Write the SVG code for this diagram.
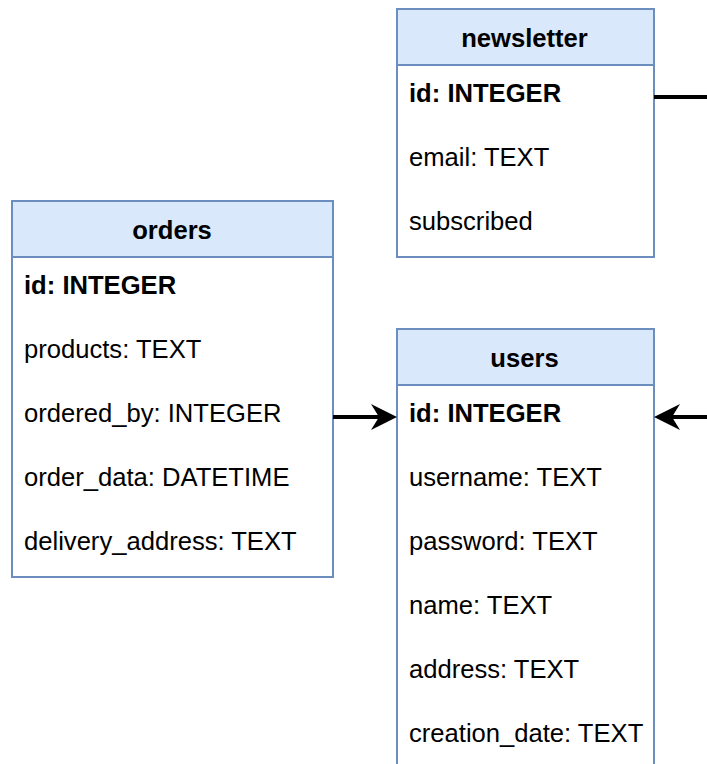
<svg xmlns="http://www.w3.org/2000/svg" width="707" height="764" viewBox="0 0 707 764">
  <style>
    .box { fill: #ffffff; stroke: #6c8ebf; stroke-width: 2; }
    .head { fill: #dae8fc; stroke: #6c8ebf; stroke-width: 2; }
    .title { font-family: "Liberation Sans", Arial, sans-serif; font-size: 25.6px; font-weight: bold; fill: #000000; text-anchor: middle; }
    .field { font-family: "Liberation Sans", Arial, sans-serif; font-size: 25.6px; fill: #000000; }
    .key { font-weight: bold; }
    .link { fill: none; stroke: #000000; stroke-width: 4; }
  </style>
  <defs>
    <marker id="arrow" viewBox="0 0 26 26" markerWidth="26" markerHeight="26" refX="8" refY="13" orient="auto" markerUnits="userSpaceOnUse">
      <path d="M0,0 L26,13 L0,26 L8,13 Z" fill="#000000"/>
    </marker>
  </defs>

  <rect width="707" height="764" fill="#ffffff"/>

  <!-- newsletter table -->
  <g id="newsletter">
    <rect class="box" x="397" y="9" width="257" height="248"/>
    <rect class="head" x="397" y="9" width="257" height="56"/>
    <text class="title" x="524.5" y="46.5">newsletter</text>
    <text class="field key" x="409" y="101.5">id: INTEGER</text>
    <text class="field" x="409" y="165.5">email: TEXT</text>
    <text class="field" x="409" y="229.5">subscribed</text>
  </g>

  <!-- orders table -->
  <g id="orders">
    <rect class="box" x="12" y="201" width="321" height="376"/>
    <rect class="head" x="12" y="201" width="321" height="56"/>
    <text class="title" x="172" y="238.5">orders</text>
    <text class="field key" x="24" y="293.5">id: INTEGER</text>
    <text class="field" x="24" y="357.5">products: TEXT</text>
    <text class="field" x="24" y="421.5">ordered_by: INTEGER</text>
    <text class="field" x="24" y="485.5">order_data: DATETIME</text>
    <text class="field" x="24" y="549.5">delivery_address: TEXT</text>
  </g>

  <!-- users table -->
  <g id="users">
    <rect class="box" x="397" y="329" width="257" height="440"/>
    <rect class="head" x="397" y="329" width="257" height="56"/>
    <text class="title" x="524.5" y="366.5">users</text>
    <text class="field key" x="409" y="421.5">id: INTEGER</text>
    <text class="field" x="409" y="485.5">username: TEXT</text>
    <text class="field" x="409" y="549.5">password: TEXT</text>
    <text class="field" x="409" y="613.5">name: TEXT</text>
    <text class="field" x="409" y="677.5">address: TEXT</text>
    <text class="field" x="409" y="741.5">creation_date: TEXT</text>
  </g>

  <!-- relations -->
  <g id="connectors">
    <path class="link" d="M654,97 L710,97"/>
    <path class="link" d="M333,417 L379,417" marker-end="url(#arrow)"/>
    <path class="link" d="M710,417 L672,417" marker-end="url(#arrow)"/>
  </g>
</svg>
